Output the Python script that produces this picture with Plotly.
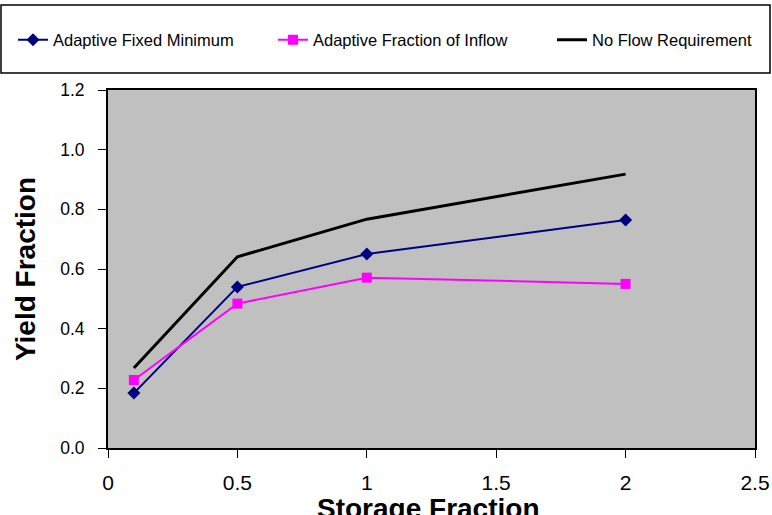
import plotly.graph_objects as go

storage = [0.1, 0.5, 1.0, 2.0]
fixed_min = [0.184, 0.54, 0.65, 0.764]
frac_inflow = [0.228, 0.484, 0.571, 0.55]
no_flow = [0.268, 0.641, 0.767, 0.918]

names = ["Adaptive Fixed Minimum", "Adaptive Fraction of Inflow", "No Flow Requirement"]
x_title = "Storage Fraction"
y_title = "Yield Fraction"

W, H = 772, 515
L, R, T, B = 108, 17, 90, 67
PW, PH = W - L - R, H - T - B

def px(x):
    return (x - L) / PW

def py(y):
    return (H - B - y) / PH

fig = go.Figure()
fig.add_trace(go.Scatter(x=storage, y=fixed_min, name=names[0], mode="lines+markers",
                         line=dict(color="#000080", width=2),
                         marker=dict(symbol="diamond", size=10, color="#000080"),
                         legend="legend"))
fig.add_trace(go.Scatter(x=storage, y=frac_inflow, name=names[1], mode="lines+markers",
                         line=dict(color="#FF00FF", width=2),
                         marker=dict(symbol="square", size=10, color="#FF00FF"),
                         legend="legend2"))
fig.add_trace(go.Scatter(x=storage, y=no_flow, name=names[2], mode="lines",
                         line=dict(color="#000000", width=3),
                         legend="legend3"))

legfont = dict(family="Liberation Sans, Arial, sans-serif", size=16.5, color="black")
common = dict(orientation="h", yanchor="middle", xanchor="left", font=legfont,
              bgcolor="rgba(0,0,0,0)", itemwidth=30)

fig.update_layout(
    width=W, height=H,
    margin=dict(l=L, r=R, t=T, b=B, autoexpand=False),
    paper_bgcolor="white",
    plot_bgcolor="#C0C0C0",
    showlegend=True,
    legend=dict(x=px(13), y=py(40), **common),
    legend2=dict(x=px(273), y=py(40), **common),
    legend3=dict(x=px(552), y=py(40), **common),
    font=dict(family="Liberation Sans, Arial, sans-serif", color="black"),
    xaxis=dict(range=[0, 2.5], dtick=0.5, tick0=0, showgrid=False, zeroline=False,
               showline=True, linecolor="black", linewidth=2, mirror=True,
               ticks="outside", ticklen=8, tickcolor="black", automargin=False,
               tickfont=dict(size=21), ticklabelstandoff=7),
    yaxis=dict(range=[0, 1.2], dtick=0.2, tick0=0, tickformat=".1f", showgrid=False,
               zeroline=False, showline=True, linecolor="black", linewidth=2, mirror=True,
               ticks="outside", ticklen=8, tickcolor="black", automargin=False,
               tickfont=dict(size=17.5), ticklabelstandoff=10,
               title=dict(text="<b>" + y_title + "</b>", font=dict(size=28), standoff=16)),
    annotations=[dict(text="<b>" + x_title + "</b>", xref="paper", yref="paper",
                      x=px(428), y=py(491), xanchor="center", yanchor="top",
                      showarrow=False, font=dict(size=28))],
    shapes=[dict(type="rect", xref="paper", yref="paper",
                 x0=px(1), x1=px(770), y0=py(73), y1=py(5),
                 line=dict(color="black", width=1.5), fillcolor="white", layer="below")],
)

fig.write_html("out.html")
